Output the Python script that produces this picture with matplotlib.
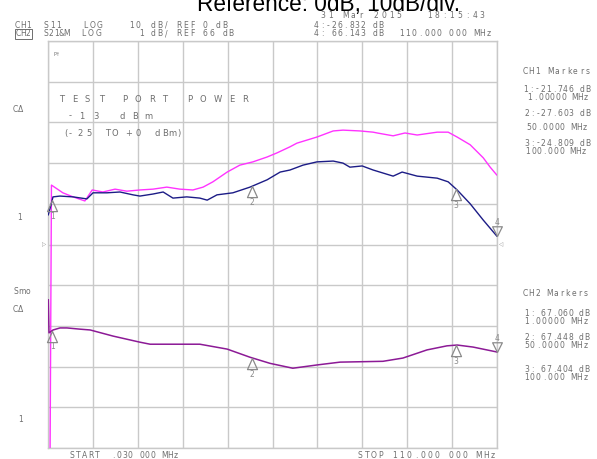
import matplotlib
matplotlib.use("Agg")
import matplotlib.pyplot as plt
import numpy as np
from matplotlib.path import Path
from matplotlib.patches import Rectangle

# ---------------- data ----------------
# CH1 (10 dB/div, ref 0 dB at centre) - magenta trace
trace_a_freq = [0.03, 0.45, 0.8, 3.6, 6.1, 9.0, 10.8, 13.4, 16.4, 19.3, 22.5, 25.7, 29.1, 32.3,
                35.5, 38.0, 40.4, 43.9, 47.0, 50.2, 53.7, 56.1, 59.3, 61.0, 65.9, 69.9, 72.3,
                76.5, 79.7, 80.7, 84.6, 87.5, 90.5, 95.4, 98.1, 100.3, 103.5, 106.7, 108.4, 110.0]
trace_a_db = [-55, -55, 14.6, 12.7, 11.7, 10.7, 13.4, 12.9, 13.6, 13.1, 13.4, 13.6, 14.1, 13.6,
              13.4, 14.1, 15.4, 17.8, 19.5, 20.3, 21.5, 22.5, 24.0, 24.9, 26.4, 27.9, 28.1,
              27.9, 27.6, 27.4, 26.7, 27.4, 26.9, 27.6, 27.6, 26.4, 24.5, 21.3, 19.0, 17.1]

# CH1 - navy trace
trace_b_freq = [0.03, 0.69, 1.18, 2.9, 6.1, 9.5, 11.0, 14.4, 17.6, 20.8, 22.5, 25.7, 28.2, 30.6,
                34.0, 37.2, 39.0, 41.4, 45.3, 49.5, 53.7, 56.9, 59.3, 62.5, 65.9, 69.9, 72.3,
                74.0, 77.0, 79.7, 84.6, 86.8, 90.5, 95.4, 98.1, 100.3, 103.5, 106.7, 110.0]
trace_b_db = [7.3, 9.7, 11.7, 11.9, 11.7, 11.2, 12.7, 12.7, 12.9, 12.2, 11.9, 12.4, 12.9, 11.4,
              11.7, 11.4, 10.9, 12.2, 12.7, 14.1, 15.9, 17.8, 18.3, 19.5, 20.3, 20.5, 20.0,
              19.0, 19.3, 18.3, 16.8, 17.8, 16.8, 16.3, 15.4, 13.4, 10.0, 6.0, 2.1]

# CH2 (1 dB/div, ref 66 dB at centre) - purple trace
trace_c_freq = [0.03, 0.2, 1.2, 2.9, 4.6, 7.8, 10.3, 15.9, 22.5, 25.0, 37.2, 43.9, 49.5, 54.4,
                58.6, 60.0, 65.9, 71.6, 82.1, 87.0, 92.9, 97.8, 100.3, 104.2, 110.0]
trace_c_db = [64.64, 63.83, 63.90, 63.95, 63.95, 63.92, 63.90, 63.75, 63.60, 63.55, 63.55, 63.43,
              63.23, 63.08, 62.99, 62.96, 63.04, 63.11, 63.13, 63.21, 63.41, 63.51, 63.53,
              63.48, 63.36]

marker_freqs = [1.0, 50.0, 100.0, 110.0]
marker_labels = ["1", "2", "3", "4"]

ch1_marker_text = ["1:-21.746 dB", "1.00000 MHz", "2:-27.603 dB", "50.0000 MHz",
                   "3:-24.809 dB", "100.000 MHz"]
ch2_marker_text = ["1: 67.060 dB", "1.00000 MHz", "2: 67.448 dB", "50.0000 MHz",
                   "3: 67.404 dB", "100.000 MHz"]

f_start, f_stop = 0.03, 110.0

# ---------------- figure ----------------
W, H = 597, 459
fig = plt.figure(figsize=(W / 100, H / 100), dpi=100)
fig.patch.set_facecolor("white")

GRID = "#c9c9c9"
TC = "#6e6e6e"
MC = "#8a8a8a"
FS = 5.5


def spaced(x0, y, s, pitch, fs=FS, color=TC):
    for i, ch in enumerate(s):
        if ch.strip():
            fig.text((x0 + i * pitch) / W, 1 - y / H, ch, ha="center", va="center",
                     fontsize=fs, color=color, family="DejaVu Sans")


def placed(chars, xs, y, fs=FS, color=TC):
    for ch, x in zip(chars, xs):
        fig.text(x / W, 1 - y / H, ch, ha="center", va="center",
                 fontsize=fs, color=color, family="DejaVu Sans")


ax1 = fig.add_axes([48.3 / W, 1 - 448 / H, 448.4 / W, 407 / H])
ax1.set_xlim(f_start, f_stop)
ax1.set_ylim(-50, 50)
ax1.set_xticks(np.linspace(f_start, f_stop, 11))
ax1.set_yticks(np.arange(-50, 51, 10))
ax1.tick_params(length=0, labelbottom=False, labelleft=False)
ax1.grid(True, color=GRID, lw=1.0)
for s in ax1.spines.values():
    s.set_color(GRID)
    s.set_linewidth(1.0)

ax1.plot(trace_a_freq, trace_a_db, color="#ff33ff", lw=1.0, zorder=3)
ax1.plot(trace_b_freq, trace_b_db, color="#1c1c86", lw=1.0, zorder=3)

ax2 = ax1.twinx()
ax2.set_ylim(61, 71)
ax2.set_axis_off()
ax2.plot(trace_c_freq, trace_c_db, color="#8c1a96", lw=1.1, zorder=3)

up_tri = Path([(0, 0), (-0.45, -1), (0.45, -1), (0, 0)],
              [Path.MOVETO, Path.LINETO, Path.LINETO, Path.CLOSEPOLY])
down_tri = Path([(0, 0), (-0.5, 1), (0.5, 1), (0, 0)],
                [Path.MOVETO, Path.LINETO, Path.LINETO, Path.CLOSEPOLY])


def draw_markers(ax, fx, fy):
    for f, lab in zip(marker_freqs, marker_labels):
        yv = np.interp(f, fx, fy)
        if lab == "4":
            ax.plot([f], [yv], marker=down_tri, ms=14, mfc="none", mec=MC, mew=0.9,
                    ls="none", clip_on=False, zorder=6)
            ax.annotate(lab, (f, yv), xytext=(0, 9.6), textcoords="offset points",
                        ha="center", va="center", fontsize=FS, color=MC,
                        annotation_clip=False, zorder=6)
        else:
            ax.plot([f], [yv], marker=up_tri, ms=16, mfc="none", mec=MC, mew=0.9,
                    ls="none", clip_on=False, zorder=6)
            ax.annotate(lab, (f, yv), xytext=(0, -11.8), textcoords="offset points",
                        ha="center", va="center", fontsize=FS, color=MC,
                        annotation_clip=False, zorder=6)


draw_markers(ax1, trace_b_freq, trace_b_db)
draw_markers(ax2, trace_c_freq, trace_c_db)

# ---------------- texts ----------------
fig.text(197 / W, 1 - 10.5 / H, "Reference: 0dB, 10dB/div.", ha="left", va="baseline",
         fontsize=16.3, color="black", family="Liberation Sans")

spaced(17.5, 25, "CH1", 5.3)
spaced(46, 25, "S11", 6.2)
spaced(85, 25, "LOG", 7.2)
spaced(131.7, 25, "10", 6.6)
spaced(153.3, 25, "dB/ REF 0 dB", 6.5)
spaced(18.3, 34, "CH2", 5.0)
fig.add_artist(Rectangle((14.5 / W, 1 - 38.5 / H), 17.5 / W, 9 / H, fill=False,
                         ec=TC, lw=0.7, transform=fig.transFigure))
spaced(46, 34, "S21&M", 5.2)
spaced(83.3, 34, "LOG", 7.5)
spaced(141.7, 34, "1", 6.5)
spaced(153.3, 34, "dB/ REF 66 dB", 6.5)

spaced(322.7, 15, "31 Mar 2015   18:15:43", 7.6)
spaced(316, 25.5, "4:-26.832 dB", 5.9)
spaced(316, 34, "4: 66.143 dB", 5.9)
spaced(401.7, 34, "110.000 000 MHz", 6.2)

spaced(525, 72, "CH1 Markers", 6.3)
ch1_y = [89, 98, 114, 127, 143, 152]
ch1_x0 = [526, 530, 526.5, 528.5, 526.5, 528]
for t, y, x0 in zip(ch1_marker_text, ch1_y, ch1_x0):
    spaced(x0, y, t, 5.6)

spaced(525.5, 294, "CH2 Markers", 6.0)
ch2_y = [313, 321, 338, 346, 370, 378]
for t, y in zip(ch2_marker_text, ch2_y):
    spaced(526.5, y, t, 5.5 if "dB" in t else 5.9)

# left annotations
spaced(15.5, 110, "CΔ", 5.5)
spaced(20, 217, "1", 5)
spaced(16, 292, "Smo", 6.2)
spaced(15.5, 310, "CΔ", 5.5)
spaced(21, 420, "1", 5)

# in-graticule annotations
fig.text(57 / W, 1 - 55 / H, "P↑", ha="center", va="center", fontsize=3.5, color=TC)
placed("TESTPORTPOWER",
       [61.7, 75, 87.3, 101.7, 125, 138.3, 151.7, 165, 190, 203.3, 218.3, 231.7, 245],
       99, fs=6)
placed("-13dBm", [70, 82, 95.7, 121.7, 135, 148.3], 116, fs=6)
placed("(-25TO+0dBm)",
       [65.5, 70.5, 80.5, 89, 107.5, 115, 129, 138, 157, 165, 172.5, 179], 134, fs=6)

fig.text(44 / W, 1 - 245 / H, "▷", ha="center", va="center", fontsize=4, color=MC)
fig.text(500 / W, 1 - 245 / H, "◁", ha="center", va="center", fontsize=4, color=MC)

spaced(71.5, 455.5, "START", 6.4)
spaced(113, 455.5, ".030 000 MHz", 5.7)
spaced(360, 455.5, "STOP 110.000 000 MHz", 7.0)

fig.savefig("out.png", dpi=100, facecolor="white")
